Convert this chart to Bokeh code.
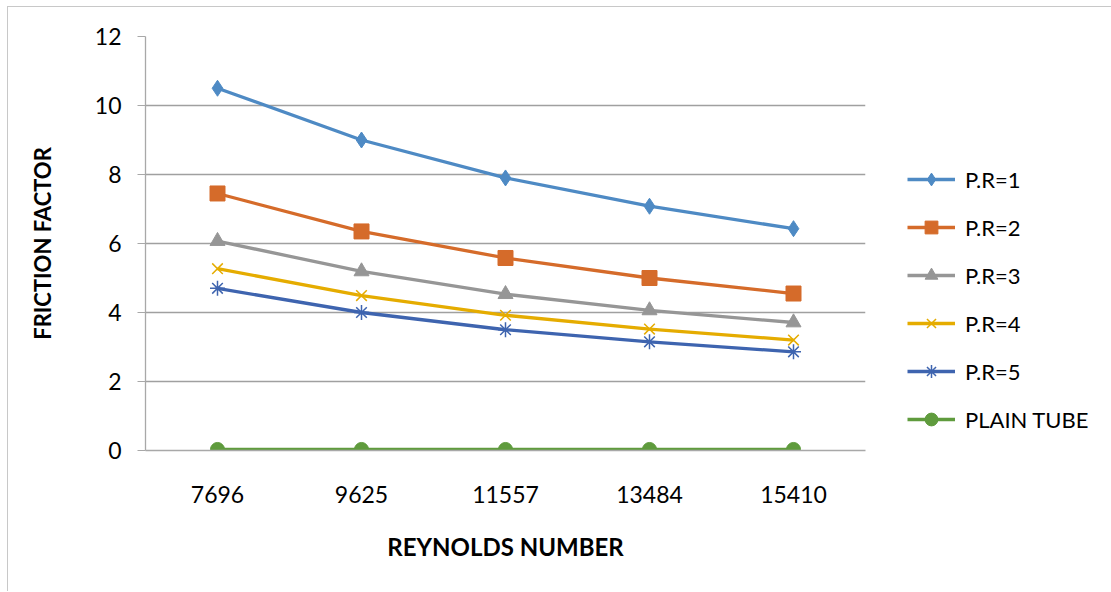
from bokeh.plotting import figure
from bokeh.models import FactorRange, Range1d, Legend, LegendItem, FixedTicker
from bokeh.embed import file_html
from bokeh.resources import INLINE

reynolds = ["7696", "9625", "11557", "13484", "15410"]
pr1 = [10.5, 9.0, 7.9, 7.08, 6.43]
pr2 = [7.45, 6.35, 5.58, 5.0, 4.55]
pr3 = [6.07, 5.19, 4.53, 4.06, 3.71]
pr4 = [5.27, 4.49, 3.92, 3.52, 3.2]
pr5 = [4.7, 4.0, 3.5, 3.15, 2.86]
plain = [0.03, 0.03, 0.03, 0.03, 0.03]
series_names = ["P.R=1", "P.R=2", "P.R=3", "P.R=4", "P.R=5", "PLAIN TUBE"]
y_ticks = [0, 2, 4, 6, 8, 10, 12]

FONT = "Lato"
colors = ["#4E8AC4", "#D56B2A", "#969696", "#E5AC00", "#3E64AF", "#5F9B3D"]
markers = ["diamond", "square", "triangle", "x", "asterisk", "circle"]
msizes = [16, 15, 15, 15, 15, 14]

p = figure(frame_width=720, frame_height=414, output_backend="svg", toolbar_location=None,
           x_range=FactorRange(factors=reynolds), y_range=Range1d(0, 12),
           min_border_left=137, min_border_right=0, min_border_top=29, min_border_bottom=141)
p.margin = (6, 0, 0, 7)
p.styles = {"border-left": "1px solid #c8c8c8", "border-top": "1px solid #c8c8c8"}
p.outline_line_color = None
p.background_fill_color = "white"
p.border_fill_color = "white"

p.xgrid.grid_line_color = None
p.ygrid.grid_line_color = "#a0a0a0"
p.ygrid.grid_line_width = 1.3
p.yaxis.ticker = FixedTicker(ticks=y_ticks)

p.yaxis.axis_line_color = "#a8a8a8"
p.yaxis.axis_line_width = 1.3
p.yaxis.major_tick_line_color = "#a8a8a8"
p.yaxis.major_tick_out = 8
p.yaxis.major_tick_in = 0
p.yaxis.minor_tick_line_color = None
p.yaxis.major_label_standoff = 16
p.yaxis.major_label_text_font = FONT
p.yaxis.major_label_text_font_size = "23px"
p.yaxis.major_label_text_color = "black"
p.yaxis.axis_label = "FRICTION FACTOR"
p.yaxis.axis_label_text_font = FONT
p.yaxis.axis_label_text_font_size = "22px"
p.yaxis.axis_label_text_font_style = "bold"
p.yaxis.axis_label_text_color = "black"
p.yaxis.axis_label_standoff = 36

p.xaxis.axis_line_color = "#a8a8a8"
p.xaxis.axis_line_width = 1.3
p.xaxis.major_tick_line_color = None
p.xaxis.minor_tick_line_color = None
p.xaxis.major_label_standoff = 29
p.xaxis.major_label_text_font = FONT
p.xaxis.major_label_text_font_size = "23px"
p.xaxis.major_label_text_color = "black"
p.xaxis.axis_label = "REYNOLDS NUMBER"
p.xaxis.axis_label_text_font = FONT
p.xaxis.axis_label_text_font_size = "24px"
p.xaxis.axis_label_text_font_style = "bold"
p.xaxis.axis_label_text_color = "black"
p.xaxis.axis_label_standoff = 26

data = [pr1, pr2, pr3, pr4, pr5, plain]
items = []
for name, vals, c, m, s in zip(series_names, data, colors, markers, msizes):
    ln = p.line(reynolds, vals, line_color=c, line_width=3.3)
    if m in ("x", "asterisk"):
        sc = p.scatter(reynolds, vals, marker=m, size=s, line_color=c, line_width=1.5, fill_color=None)
    else:
        sc = p.scatter(reynolds, vals, marker=m, size=s, line_color=c, fill_color=c)
    items.append(LegendItem(label=name, renderers=[ln, sc]))

legend = Legend(items=items, location=(42, 15), orientation="vertical")
legend.border_line_color = None
legend.background_fill_alpha = 0
legend.padding = 0
legend.margin = 0
legend.spacing = 16
legend.glyph_width = 48
legend.glyph_height = 32
legend.label_height = 32
legend.label_standoff = 10
legend.label_text_font = FONT
legend.label_text_font_size = "22px"
legend.label_text_color = "black"
legend.label_text_baseline = "middle"
p.add_layout(legend, "right")

open("out.html", "w").write(file_html(p, INLINE))
